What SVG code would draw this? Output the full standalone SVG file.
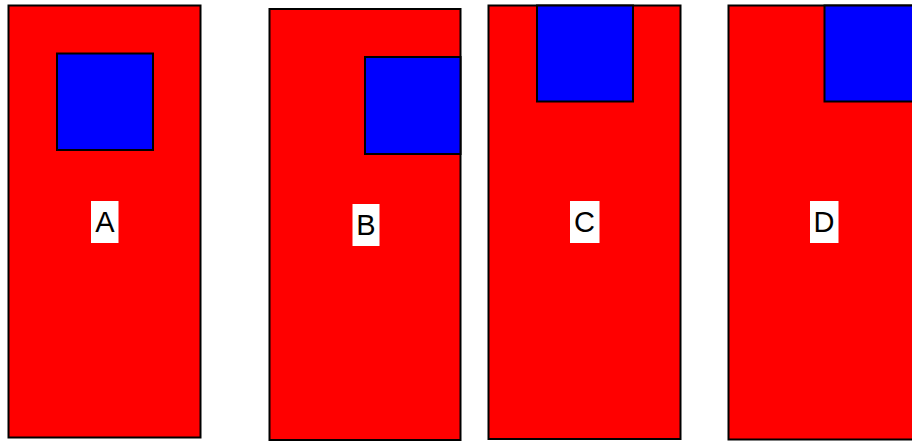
<svg xmlns="http://www.w3.org/2000/svg" width="912" height="441" viewBox="0 0 912 441">
<style>
.red{fill:#ff0000;stroke:#000;stroke-width:2}
.blue{fill:#0000ff;stroke:#000;stroke-width:2}
.lbg{fill:#fff}
.lbl{font-family:"Liberation Sans",Arial,sans-serif;font-size:29px;fill:#000;text-anchor:middle}
</style>
<rect width="912" height="441" fill="#fff"/>
<g id="A">
<rect class="red" x="8.5" y="5.5" width="192" height="432"/>
<rect class="blue" x="57" y="53.5" width="96" height="96.5"/>
<rect class="lbg" x="91" y="201" width="27.5" height="42"/>
<text class="lbl" x="105" y="232">A</text>
</g>
<g id="B">
<rect class="red" x="269.5" y="9" width="191" height="431"/>
<rect class="blue" x="365" y="57" width="95.5" height="97"/>
<rect class="lbg" x="352.5" y="204" width="27" height="42"/>
<text class="lbl" x="366" y="235">B</text>
</g>
<g id="C">
<rect class="red" x="488.5" y="5.5" width="192" height="433.5"/>
<rect class="blue" x="537" y="5.5" width="96" height="96"/>
<rect class="lbg" x="570" y="201" width="29.5" height="42"/>
<text class="lbl" x="584.5" y="232">C</text>
</g>
<g id="D">
<rect class="red" x="728.5" y="5.5" width="190" height="434"/>
<rect class="blue" x="824.5" y="5.5" width="96" height="96"/>
<rect class="lbg" x="810" y="201" width="28.5" height="42"/>
<text class="lbl" x="824" y="232">D</text>
</g>
<g id="connectors"/>
</svg>
